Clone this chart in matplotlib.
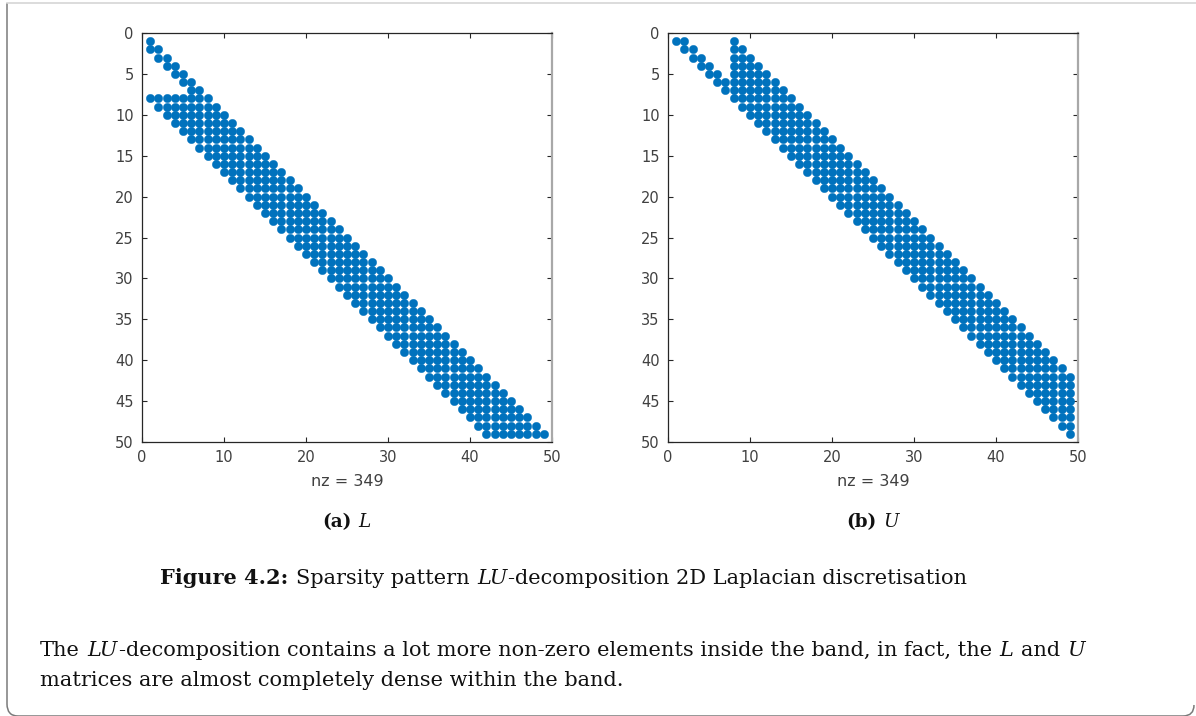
import matplotlib

matplotlib.use("Agg")
import matplotlib.pyplot as plt
from matplotlib.lines import Line2D
from matplotlib.path import Path
from matplotlib.patches import PathPatch

W, H = 1196, 716
BLUE = "#0072BD"
TICK_GREY = "#404040"
SERIF = "DejaVu Serif"
SANS = "DejaVu Sans"

N = 49
NZ = 349
# first non-zero column of every row of L (rows 1..49)
L_FIRST_COL = [1, 1, 2, 3, 4, 5, 6,
               1, 2, 3, 4, 5, 6, 7, 8, 9, 10, 11, 12, 13, 14, 15, 16, 17, 18,
               19, 20, 21, 22, 23, 24, 25, 26, 27, 28, 29, 30, 31, 32, 33, 34,
               35, 36, 37, 38, 39, 40, 41, 42]
# first non-zero row of every column of U (cols 1..49)
U_FIRST_ROW = [1, 1, 2, 3, 4, 5, 6,
               1, 2, 3, 4, 5, 6, 7, 8, 9, 10, 11, 12, 13, 14, 15, 16, 17, 18,
               19, 20, 21, 22, 23, 24, 25, 26, 27, 28, 29, 30, 31, 32, 33, 34,
               35, 36, 37, 38, 39, 40, 41, 42]
X_TICKS = [0, 10, 20, 30, 40, 50]
Y_TICKS = [0, 5, 10, 15, 20, 25, 30, 35, 40, 45, 50]

SUB_CAPTIONS = [("(a)", "L"), ("(b)", "U")]
CAPTION = [("Figure 4.2:", "bold"), (" ", None), ("Sparsity pattern", "normal"),
           (" ", None), ("LU", "italic"),
           ("-decomposition 2D Laplacian discretisation", "normal")]
PARA_1 = [("The", "normal"), (" ", None), ("LU", "italic"),
          ("-decomposition contains a lot more non-zero elements inside the band, in fact, the",
           "normal"),
          (" ", None), ("L", "italic"), (" ", None), ("and", "normal"),
          (" ", None), ("U", "italic")]
PARA_2 = [("matrices are almost completely dense within the band.", "normal")]


def L_entries():
    rows, cols = [], []
    for i, first in enumerate(L_FIRST_COL, start=1):
        for j in range(first, i + 1):
            rows.append(i); cols.append(j)
    return rows, cols


def U_entries():
    rows, cols = [], []
    for j, first in enumerate(U_FIRST_ROW, start=1):
        for i in range(first, j + 1):
            rows.append(i); cols.append(j)
    return rows, cols


def px(x, y):
    return x / W, 1 - y / H


fig = plt.figure(figsize=(W / 100, H / 100), dpi=100)
fig.patch.set_facecolor("white")

for k, (rows, cols) in enumerate([L_entries(), U_entries()]):
    x0 = 142 if k == 0 else 668
    ax = fig.add_axes([x0 / W, 1 - 442 / H, 410 / W, 409 / H])
    ax.plot(cols, rows, "o", color=BLUE, ms=6.0, mec=BLUE, mew=0.3)
    ax.set_xlim(0, N + 1)
    ax.set_ylim(N + 1, 0)
    ax.set_xticks(X_TICKS)
    ax.set_yticks(Y_TICKS)
    ax.tick_params(direction="in", length=3.5, width=0.8, top=True, right=True,
                   labelsize=10.5, labelcolor=TICK_GREY, color="#262626", pad=6)
    for lab in ax.get_xticklabels() + ax.get_yticklabels():
        lab.set_family(SANS)
    for side in ["left", "top", "bottom"]:
        ax.spines[side].set_color("#262626")
        ax.spines[side].set_linewidth(0.9)
    ax.spines["right"].set_color("#a8a8a8")
    ax.spines["right"].set_linewidth(1.6)
    ax.set_xlabel(f"nz = {NZ}", fontsize=11.5, family=SANS, color=TICK_GREY, labelpad=6)

renderer = fig.canvas.get_renderer()


def width_of(s, size, style):
    kw = {"bold": dict(weight="bold"), "italic": dict(style="italic")}.get(style, {})
    t = fig.text(0, 0, s, fontsize=size, family=SERIF, **kw)
    w = t.get_window_extent(renderer).width
    t.remove()
    return w


def put_runs(runs, x, y, size, align="left"):
    space = width_of("a a", size, "normal") - width_of("aa", size, "normal")
    widths = [space if st is None else width_of(s, size, st) + 0.06 * size for s, st in runs]
    total = sum(widths)
    cur = x - total / 2 if align == "center" else x
    for (s, st), w in zip(runs, widths):
        if st is not None:
            kw = {"bold": dict(weight="bold"), "italic": dict(style="italic")}.get(st, {})
            fig.text(*px(cur, y), s, fontsize=size, family=SERIF, va="baseline",
                     color="#111111", **kw)
        cur += w
    return total


# fit the body text size to the paragraph width of the page
base = 15
body = base * 1048 / put_runs(PARA_1, -5000, -5000, base)
for t in list(fig.texts):
    t.remove()

for (tag, sym), cx in zip(SUB_CAPTIONS, [347, 873]):
    put_runs([(tag, "bold"), (" ", None), (sym, "italic")], cx, 527, body * 0.88, "center")

put_runs(CAPTION, 564, 584, body, "center")
put_runs(PARA_1, 40, 656, body)
put_runs(PARA_2, 40, 686, body)

# page frame
fig.add_artist(Line2D([7 / W, 1], [1 - 3 / H, 1 - 3 / H], color="#d6d6d6", lw=1.2))
frame = Path([px(7, 3), px(7, 704), px(7, 716), px(18, 716), px(1183, 716),
              px(1194, 716), px(1194, 705)],
             [Path.MOVETO, Path.LINETO, Path.CURVE3, Path.CURVE3, Path.LINETO,
              Path.CURVE3, Path.CURVE3])
fig.add_artist(PathPatch(frame, transform=fig.transFigure, fill=False,
                         edgecolor="#7a7a7a", lw=1.1))

fig.savefig("out.png", dpi=100)
